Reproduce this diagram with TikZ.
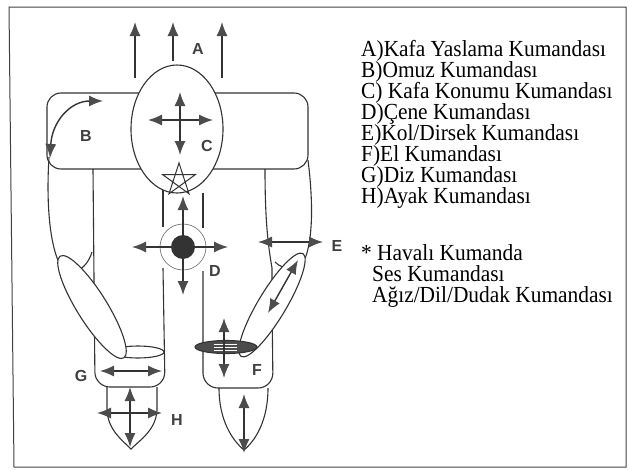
\documentclass[tikz,border=0pt]{standalone}
\usepackage{fontspec}
\setmainfont{Liberation Serif}
\newfontfamily\keyfont[FakeStretch=0.93]{Liberation Serif}
\newfontfamily\tagfont{Liberation Sans}
\usetikzlibrary{arrows.meta}

\tikzset{
  outline/.style={draw=black!80, line width=1.1pt},
  cmd/.style={line width=1.4pt, draw=black!80,
    -{Latex[length=14pt,width=11pt,color=black!70]}},
  cmd2/.style={line width=1.4pt, draw=black!80,
    {Latex[length=14pt,width=11pt,color=black!70]}-{Latex[length=14pt,width=11pt,color=black!70]}},
  tag/.style={font=\tagfont\bfseries\fontsize{16}{16}\selectfont, text=black!75, inner sep=0pt},
  key/.style={font=\keyfont\fontsize{23}{21}\selectfont, anchor=base west, inner sep=0pt},
}

\begin{document}
\begin{tikzpicture}[x=1pt, y=-1pt]
\useasboundingbox (0,0) rectangle (629,471);

% frame
\draw[line width=1pt, black!75] (9,7) -- (626,7) -- (626,467) -- (14,467) -- cycle;

% shoulders
\draw[outline, rounded corners=14] (47,93) rectangle (308,169);

% upper arms
\draw[outline] (49,157) .. controls (46,205) and (50,245) .. (60,265) .. controls (68,278) and (86,272) .. (92,252);
\draw[outline] (308,160) .. controls (313,200) and (313,235) .. (306,256) .. controls (300,270) and (285,272) .. (275,262);

% legs and torso
\draw[outline, rounded corners=15] (93,169) -- (95,387) -- (165,387) -- (163,268);
\draw[outline] (163,190) -- (163,227);
\draw[outline, rounded corners=15] (203,271) -- (203,388) -- (273,388) -- (272,300);
\draw[outline] (272,300) -- (272,268) .. controls (268,245) and (265,220) .. (265,169);
\draw[outline] (203,193) -- (203,228);

% head
\draw[outline, fill=white] (177,129) ellipse [x radius=46, y radius=64];

% knee and forearms
\draw[outline, fill=white] (138,352) ellipse [x radius=26, y radius=6];
\draw[outline, fill=white, rotate around={-58:(92,307)}] (92,307) ellipse [x radius=60, y radius=15];
\draw[outline, fill=white, rotate around={59:(272,305)}] (272,305) ellipse [x radius=60, y radius=14];

% hand
\draw[outline, fill=black!70] (226,347) ellipse [x radius=31, y radius=6.5];
\foreach \y in {344,347,350}
  \draw[white, line width=0.8pt] (214,\y) -- (237,\y);

% feet
\draw[outline] (107,387) -- (107,410) .. controls (108,430) and (122,440) .. (131,449) .. controls (140,440) and (156,430) .. (157,410) -- (157,387);
\draw[outline] (219,388) .. controls (219,420) and (232,440) .. (244,450) .. controls (256,440) and (268,420) .. (268,388);

% star
\draw[outline, line width=1pt, shift={(179,180)}] (-90:17) -- (54:17) -- (198:17) -- (-18:17) -- (126:17) -- cycle;

% A
\foreach \x/\y in {135/78, 173/61, 222/78}
  \draw[cmd] (\x,\y) -- (\x,22);
% B
\draw[cmd2] (50,158) .. controls (52,122) and (70,101) .. (103,101);
% C
\draw[cmd2] (148,120) -- (213,120);
\draw[cmd2] (180,92) -- (180,155);
% D
\draw[black!60, line width=0.6pt] (183,247) circle [radius=23];
\draw[cmd2] (132,247) -- (228,247);
\draw[cmd2] (183,196) -- (183,295);
\fill[black!80] (183,247) circle [radius=12];
% E
\draw[cmd2] (258,242) -- (323,242);
% F
\draw[cmd2] (268,313) -- (298,260);
\draw[cmd2] (224,318) -- (224,378);
\draw[cmd2] (244,394) -- (244,453);
% G
\draw[cmd2] (100,371) -- (162,371);
% H
\draw[cmd2] (97,413) -- (162,413);
\draw[cmd2] (130,387) -- (130,447);

% letters
\node[tag] (tagA) at (198,49) {A};
\node[tag] (tagB) at (86,136) {B};
\node[tag] (tagC) at (207,146) {C};
\node[tag] (tagD) at (215,271) {D};
\node[tag] (tagE) at (337,246) {E};
\node[tag] (tagF) at (257,370) {F};
\node[tag] (tagG) at (81,376) {G};
\node[tag] (tagH) at (177,420) {H};

% key
\foreach \t [count=\i from 0] in {A)Kafa Yaslama Kumandası, B)Omuz Kumandası,
    C) Kafa Konumu Kumandası, D)Çene Kumandası, E)Kol/Dirsek Kumandası,
    F)El Kumandası, G)Diz Kumandası, H)Ayak Kumandası}
  \node[key] (key\i) at (361,56+21*\i) {\t};
\node[key] (note0) at (361,260) {* Havalı Kumanda};
\node[key] (note1) at (372,281) {Ses Kumandası};
\node[key] (note2) at (372,302) {Ağız/Dil/Dudak Kumandası};

\end{tikzpicture}
\end{document}
